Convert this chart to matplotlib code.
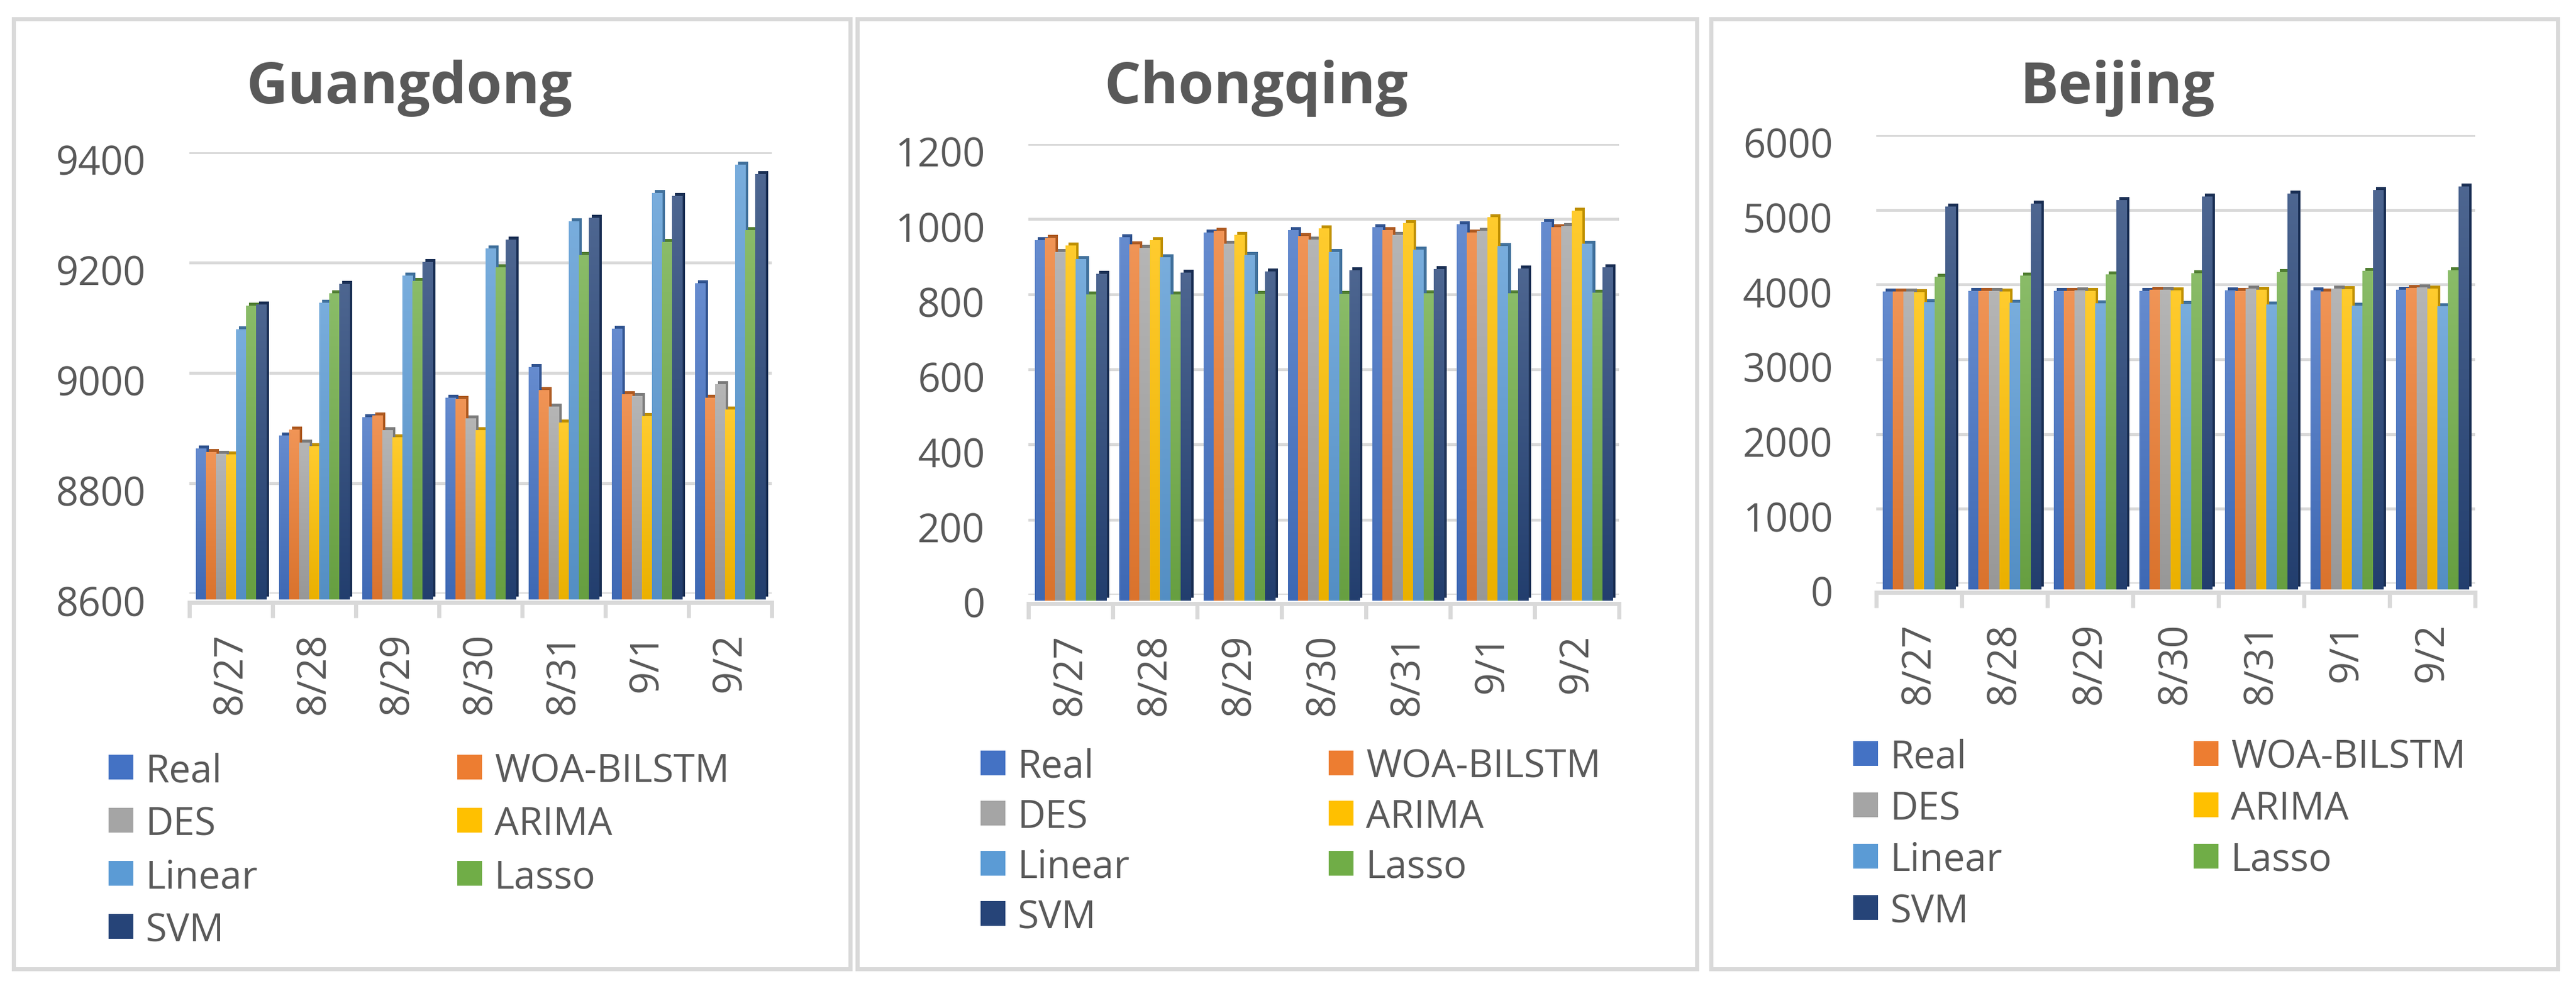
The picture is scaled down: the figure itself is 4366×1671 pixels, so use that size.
import matplotlib
matplotlib.use("Agg")
import matplotlib.pyplot as plt
import matplotlib.transforms as mtransforms
from matplotlib.patches import Rectangle
from matplotlib.colors import LinearSegmentedColormap, to_rgb
import numpy as np

plt.rcParams['font.family'] = ['Open Sans', 'DejaVu Sans']

dates = ["8/27", "8/28", "8/29", "8/30", "8/31", "9/1", "9/2"]
models = ["Real", "WOA-BILSTM", "DES", "ARIMA", "Linear", "Lasso", "SVM"]
colors = ["#4472C4", "#ED7D31", "#A5A5A5", "#FFC000", "#5B9BD5", "#70AD47", "#264478"]
side_colors = ["#2F528F", "#AE5A21", "#7B7B7B", "#BF9000", "#41719C", "#507E32", "#1A2F54"]

# Guangdong
gd_real = [8874, 8897, 8931, 8966, 9021, 9091, 9173]
gd_woa = [8867, 8908, 8934, 8964, 8980, 8972, 8966]
gd_des = [8864, 8884, 8907, 8928, 8950, 8969, 8990]
gd_arima = [8863, 8878, 8894, 8907, 8921, 8933, 8944]
gd_linear = [9090, 9138, 9187, 9236, 9286, 9337, 9388]
gd_lasso = [9133, 9155, 9178, 9202, 9225, 9248, 9270]
gd_svm = [9135, 9172, 9212, 9252, 9292, 9332, 9371]

# Chongqing
cq_real = [960, 968, 980, 986, 995, 1002, 1009]
cq_woa = [966, 949, 985, 971, 986, 980, 994]
cq_des = [929, 940, 950, 962, 974, 985, 997]
cq_arima = [945, 959, 974, 991, 1005, 1021, 1038]
cq_linear = [910, 914, 921, 929, 935, 944, 950]
cq_lasso = [815, 815, 816, 817, 818, 819, 820]
cq_svm = [870, 873, 876, 879, 882, 885, 888]

# Beijing
bj_real = [3990, 3993, 3995, 3998, 4001, 4005, 4010]
bj_woa = [3985, 3995, 3995, 4010, 3995, 3990, 4035]
bj_des = [3985, 3995, 4000, 4010, 4025, 4030, 4045]
bj_arima = [3980, 3990, 3995, 4000, 4010, 4015, 4025]
bj_linear = [3842, 3835, 3830, 3820, 3810, 3800, 3790]
bj_lasso = [4185, 4200, 4215, 4230, 4245, 4260, 4275]
bj_svm = [5120, 5165, 5210, 5255, 5300, 5345, 5390]

panels = [
    ("Guangdong", [gd_real, gd_woa, gd_des, gd_arima, gd_linear, gd_lasso, gd_svm],
     (8600, 9400), [8600, 8800, 9000, 9200, 9400]),
    ("Chongqing", [cq_real, cq_woa, cq_des, cq_arima, cq_linear, cq_lasso, cq_svm],
     (0, 1200), [0, 200, 400, 600, 800, 1000, 1200]),
    ("Beijing", [bj_real, bj_woa, bj_des, bj_arima, bj_linear, bj_lasso, bj_svm],
     (0, 6000), [0, 1000, 2000, 3000, 4000, 5000, 6000]),
]

W, H = 4366, 1671
DPI = 100
fig = plt.figure(figsize=(W / DPI, H / DPI), dpi=DPI)
fig.patch.set_facecolor("white")

# pixel layout: axes box (left, right, top, bottom) = back wall gridlines
axes_px = [(321, 1308, 258, 1006), (1743, 2744, 244, 1008), (3180, 4195, 229, 989)]
title_x = [694, 2129, 3589]
# legend: first square left, first row centre, column gap, row pitch
legend_px = [(184, 1300, 591, 90), (1662, 1293, 590, 85), (3141, 1277, 577, 87)]
frames_px = [(23, 1441), (1453, 2876), (2900, 4335)]

text_col = "#595959"
grid_col = "#D9D9D9"


def shade(c, f):
    rgb = np.array(to_rgb(c))
    if f > 0:
        return tuple(rgb + (1 - rgb) * f)
    return tuple(rgb * (1 + f))


# top lighter, bottom a bit darker (office gradient look)
cmaps = [LinearSegmentedColormap.from_list("g%d" % i, [shade(c, -0.08), shade(c, 0.18)])
         for i, c in enumerate(colors)]
grad = np.linspace(0, 1, 64).reshape(-1, 1)

for fx0, fx1 in frames_px:
    fig.patches.append(Rectangle((fx0 / W, 1 - 1642 / H), (fx1 - fx0) / W, (1642 - 32) / H,
                                 transform=fig.transFigure, fill=False,
                                 edgecolor=grid_col, linewidth=5))

x = np.arange(len(dates))
bw = 0.85 / len(models)
px = 72.0 / DPI  # points per pixel

for k, (name, series, ylim, yticks) in enumerate(panels):
    l, r, t, b = axes_px[k]
    ax = fig.add_axes([l / W, 1 - b / H, (r - l) / W, (b - t) / H])
    front = mtransforms.offset_copy(ax.transData, fig=fig, x=0, y=-10 * px, units='points')
    depth = mtransforms.offset_copy(ax.transData, fig=fig, x=5 * px, y=-5 * px, units='points')
    for i, vals in enumerate(series):
        pos = x - 0.425 + bw * (i + 0.5)
        hts = [v - ylim[0] for v in vals]
        ax.bar(pos, hts, bottom=ylim[0], width=bw, color=side_colors[i],
               transform=depth, zorder=2, clip_on=False)
        bars = ax.bar(pos, hts, bottom=ylim[0], width=bw, color=colors[i],
                      transform=front, zorder=3, clip_on=False)
        for p, v in zip(bars.patches, vals):
            im = ax.imshow(grad, cmap=cmaps[i], origin="lower", aspect="auto",
                           extent=(p.get_x(), p.get_x() + bw, ylim[0], v),
                           transform=front, zorder=3.5, interpolation="bilinear")
            im.set_clip_box(fig.bbox)
            im.set_clip_path(p)
    ax.set_xlim(-0.5, len(dates) - 0.5)
    ax.set_ylim(*ylim)
    ax.set_yticks(yticks)
    ax.yaxis.grid(True, color=grid_col, linewidth=3.6, zorder=0)
    ax.set_axisbelow(True)
    for s in ["top", "right", "left"]:
        ax.spines[s].set_visible(False)
    ax.spines["bottom"].set_color(grid_col)
    ax.spines["bottom"].set_linewidth(5)
    ax.spines["bottom"].set_position(("outward", 15 * px))
    ax.tick_params(axis="y", length=0, pad=53, labelsize=48, labelcolor=text_col)
    shift = mtransforms.ScaledTranslation(0, -13 / DPI, fig.dpi_scale_trans)
    for lab in ax.get_yticklabels():
        lab.set_transform(lab.get_transform() + shift)
    ax.set_xticks(x)
    ax.set_xticklabels(dates, rotation=90)
    ax.tick_params(axis="x", which="major", length=0, pad=37, labelsize=48, labelcolor=text_col)
    ax.set_xticks(np.arange(-0.5, len(dates)), minor=True)
    ax.tick_params(axis="x", which="minor", length=19, width=5, color=grid_col)
    fig.text(title_x[k] / W, 1 - 149 / H, name, ha="center", va="center",
             fontsize=70, fontweight="bold", color=text_col)

    # legend laid out row by row, two columns
    lx, ly, cgap, pitch = legend_px[k]
    sq = 42
    for j, m in enumerate(models):
        row, col = j // 2, j % 2
        sx = lx + col * cgap
        cy = ly + row * pitch
        fig.patches.append(Rectangle((sx / W, 1 - (cy + sq / 2) / H), sq / W, sq / H,
                                     transform=fig.transFigure, facecolor=colors[j],
                                     edgecolor="none"))
        fig.text((sx + 63) / W, 1 - cy / H, m, ha="left", va="center_baseline",
                 fontsize=47, color=text_col)

fig.savefig("out.png", dpi=DPI, facecolor="white")
